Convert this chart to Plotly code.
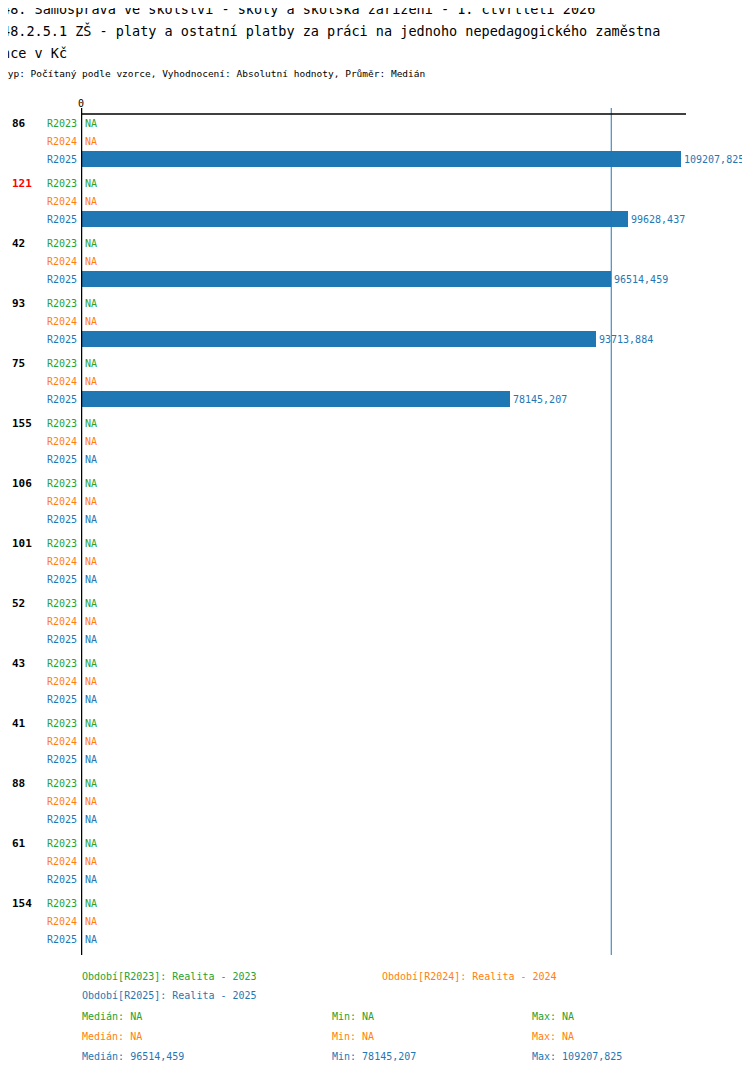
import plotly.graph_objects as go

groups = ["86", "121", "42", "93", "75", "155", "106", "101", "52", "43", "41", "88", "61", "154"]
series = ["R2023", "R2024", "R2025"]
colors = ["#2ca02c", "#ff7f0e", "#1f77b4"]
r2025 = [109207.825, 99628.437, 96514.459, 93713.884, 78145.207] + [None] * 9
median_2025 = 96514.459

# page body has an 8px margin, so work in shifted pixel coordinates
OFF = 8
W, H = 750 - OFF, 1074 - OFF
L, R, T, B = 81 - OFF, 64, 114 - OFF, 119
PH = H - T - B
FONT = "DejaVu Sans Mono"


def py(p):
    return (H - B - (p - OFF)) / PH


def px(p):
    return (p - OFF - L) / (W - L - R)


fig = go.Figure()
ys = [g * 60 + 2 * 18 for g in range(len(groups))]
vals = [v if v is not None else 0 for v in r2025]
fig.add_trace(go.Bar(x=vals, y=ys, orientation="h", width=16, marker_color=colors[2],
                     marker_line_width=0, hoverinfo="x"))

ann = []
for g, name in enumerate(groups):
    ann.append(dict(x=px(10), y=g * 60, xref="paper", yref="y", text="<b>" + name + "</b>",
                    showarrow=False, xanchor="left",
                    font=dict(size=11, color="red" if name == "121" else "black", family=FONT)))
    for s, sname in enumerate(series):
        y = g * 60 + s * 18
        ann.append(dict(x=0, y=y, xref="x", yref="y", text=sname, showarrow=False,
                        xanchor="right", xshift=-2, font=dict(size=10, color=colors[s], family=FONT)))
        v = r2025[g] if s == 2 else None
        if v is None:
            ann.append(dict(x=0, y=y, xref="x", yref="y", text="NA", showarrow=False,
                            xanchor="left", xshift=2, font=dict(size=10, color=colors[s], family=FONT)))
        else:
            ann.append(dict(x=v, y=y, xref="x", yref="y", text=f"{v:.3f}".replace(".", ","),
                            showarrow=False, xanchor="left", xshift=1,
                            font=dict(size=10, color=colors[s], family=FONT)))

ann.append(dict(x=0, y=py(103), xref="x", yref="paper", text="0", showarrow=False,
                xanchor="center", yanchor="middle", font=dict(size=10, color="black", family=FONT)))

titles = [
    ("48. Samospráva ve školství - školy a školská zařízení - 1. čtvrtletí 2026", 9, 13.5),
    ("48.2.5.1 ZŠ - platy a ostatní platby za práci na jednoho nepedagogického zaměstna", 31, 13.5),
    ("nce v Kč", 53, 13.5),
    ("Typ: Počítaný podle vzorce, Vyhodnocení: Absolutní hodnoty, Průměr: Medián", 73, 9.5),
]
for t, yy, sz in titles:
    ann.append(dict(x=px(0), y=py(yy), xref="paper", yref="paper", text=t, showarrow=False,
                    xanchor="left", yanchor="middle", font=dict(size=sz, color="black", family=FONT)))

legend = [
    ("Období[R2023]: Realita - 2023", 80, 976, colors[0]),
    ("Období[R2024]: Realita - 2024", 380, 976, colors[1]),
    ("Období[R2025]: Realita - 2025", 80, 996, colors[2]),
    ("Medián: NA", 80, 1016, colors[0]), ("Min: NA", 330, 1016, colors[0]), ("Max: NA", 530, 1016, colors[0]),
    ("Medián: NA", 80, 1036, colors[1]), ("Min: NA", 330, 1036, colors[1]), ("Max: NA", 530, 1036, colors[1]),
    ("Medián: 96514,459", 80, 1056, colors[2]), ("Min: 78145,207", 330, 1056, colors[2]),
    ("Max: 109207,825", 530, 1056, colors[2]),
]
for t, xx, yy, c in legend:
    ann.append(dict(x=px(xx), y=py(yy), xref="paper", yref="paper", text=t, showarrow=False,
                    xanchor="left", yanchor="middle", font=dict(size=10, color=c, family=FONT)))

shapes = [
    dict(type="line", xref="x", yref="paper", x0=0, x1=0, y0=0, y1=py(108),
         line=dict(color="black", width=2.5)),
    dict(type="line", xref="x", yref="paper", x0=median_2025, x1=median_2025, y0=0, y1=py(108),
         line=dict(color=colors[2], width=1)),
    dict(type="line", xref="paper", yref="paper", x0=0, x1=1, y0=1, y1=1,
         line=dict(color="black", width=1.5)),
]

fig.update_layout(
    width=W, height=H, margin=dict(l=L, r=R, t=T, b=B),
    plot_bgcolor="white", paper_bgcolor="white", showlegend=False,
    annotations=ann, shapes=shapes, bargap=0,
    xaxis=dict(range=[0, 110120], showticklabels=False, showgrid=False, zeroline=False),
    yaxis=dict(range=[832, -9], showticklabels=False, showgrid=False, zeroline=False),
)

fig.write_html("out.html")
